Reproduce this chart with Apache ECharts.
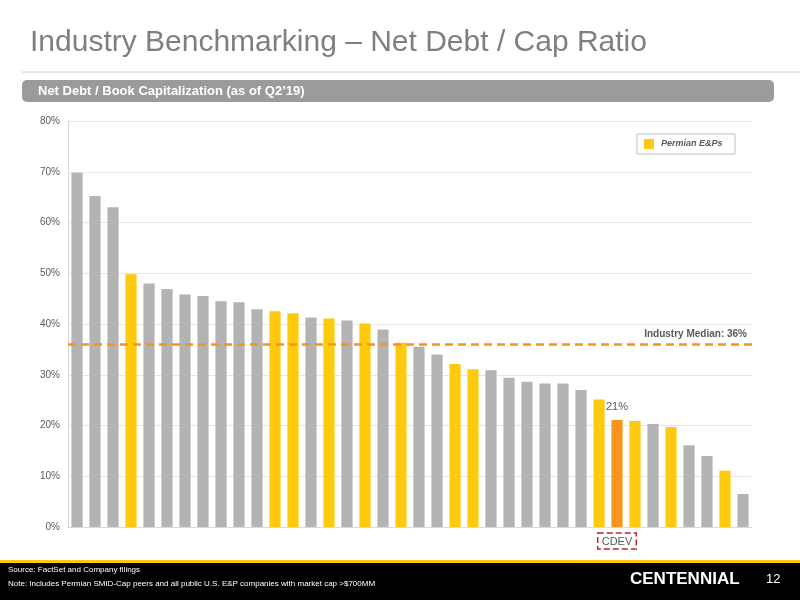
<!DOCTYPE html>
<html><head><meta charset="utf-8">
<script src="https://cdn.jsdelivr.net/npm/echarts@6/dist/echarts.min.js"></script>
<style>html,body{margin:0;padding:0;background:#fff}#c{width:800px;height:600px}</style>
</head><body><div id="c"></div>
<script>
const values = [69.8,65.2,63.0,49.8,48.0,46.9,45.8,45.5,44.5,44.3,42.9,42.5,42.1,41.3,41.1,40.7,40.1,38.9,36.3,35.5,34.0,32.1,31.1,30.9,29.4,28.6,28.3,28.3,27.0,25.1,21.1,20.9,20.3,19.7,16.1,14.0,11.1,6.5];
const groups = ['o','o','o','p','o','o','o','o','o','o','o','p','p','o','p','o','p','o','p','o','o','p','p','o','o','o','o','o','o','p','c','p','o','p','o','o','p','o'];
const categories = values.map((v,i)=> groups[i]==='c' ? 'CDEV' : 'Peer '+(i+1));
const yTicks = [0,10,20,30,40,50,60,70,80];
const median = 36;
const colors = {o:'#b3b3b3', p:'#ffc90e', c:'#f7941d'};
const chart = echarts.init(document.getElementById('c'));
chart.setOption({
  animation:false,
  graphic:[
    {type:'text',left:30,top:28,style:{text:'Industry Benchmarking – Net Debt / Cap Ratio',font:'30px "Liberation Sans", Arial',fill:'#7f7f7f'}},
    {type:'line',shape:{x1:22,y1:72,x2:800,y2:72},style:{stroke:'#d0d0d0',lineWidth:1}},
    {type:'rect',shape:{x:22,y:80,width:752,height:22,r:5},style:{fill:'#9b9b9b'}},
    {type:'text',left:38,top:85,style:{text:"Net Debt / Book Capitalization (as of Q2’19)",font:'bold 13px "Liberation Sans", Arial',fill:'#fff'}},
    {type:'rect',shape:{x:637,y:134,width:98,height:20},style:{fill:'#fff',stroke:'#bfbfbf',lineWidth:1}},
    {type:'rect',shape:{x:644,y:139,width:10,height:10},style:{fill:'#ffc90e'}},
    {type:'text',left:661,top:139,style:{text:'Permian E&Ps',font:'italic bold 9px "Liberation Sans", Arial',fill:'#595959'}},
    {type:'rect',shape:{x:0,y:560,width:800,height:3},style:{fill:'#ffc90e'}},
    {type:'rect',shape:{x:0,y:563,width:800,height:37},style:{fill:'#000'}},
    {type:'text',left:8,top:566,style:{text:'Source: FactSet and Company filings',font:'8px "Liberation Sans", Arial',fill:'#fff'}},
    {type:'text',left:8,top:580,style:{text:'Note: Includes Permian SMID-Cap peers and all public U.S. E&P companies with market cap >$700MM',font:'8px "Liberation Sans", Arial',fill:'#fff'}},
    {type:'text',left:630,top:571,style:{text:'CENTENNIAL',font:'bold 17px "Liberation Sans", Arial',fill:'#fff'}},
    {type:'text',left:766,top:573,style:{text:'12',font:'13px "Liberation Sans", Arial',fill:'#fff'}}
  ],
  grid:{left:68,right:48,top:121,bottom:73},
  xAxis:{type:'category',data:categories,axisTick:{show:false},
    axisLine:{lineStyle:{color:'#d9d9d9'}},
    axisLabel:{interval:0,margin:6,formatter:v=>v==='CDEV'?'{b|CDEV}':'',
      rich:{b:{color:'#595959',fontSize:11,borderColor:'#c0272d',borderWidth:1.5,borderType:'dashed',padding:[3,4,2,4]}}}},
  yAxis:{type:'value',min:0,max:80,interval:10,
    axisLabel:{formatter:'{value}%',color:'#595959',fontSize:10},
    axisLine:{show:true,lineStyle:{color:'#d9d9d9'}},
    splitLine:{lineStyle:{color:'#e6e6e6'}}},
  series:[{type:'bar',barWidth:'62%',
    data:values.map((v,i)=>({value:v,itemStyle:{color:colors[groups[i]]},
      label:groups[i]==='c'?{show:true,position:'top',formatter:'21%',color:'#595959',fontSize:11,offset:[0,-2]}:{show:false}})),
    markLine:{symbol:'none',silent:true,
      lineStyle:{color:'#f7941d',type:[8,5],width:2.5},
      label:{show:true,position:'insideEndTop',formatter:'Industry Median: 36%',color:'#595959',fontWeight:'bold',fontSize:10},
      data:[{yAxis:median}]}
  }]
});
</script></body></html>
